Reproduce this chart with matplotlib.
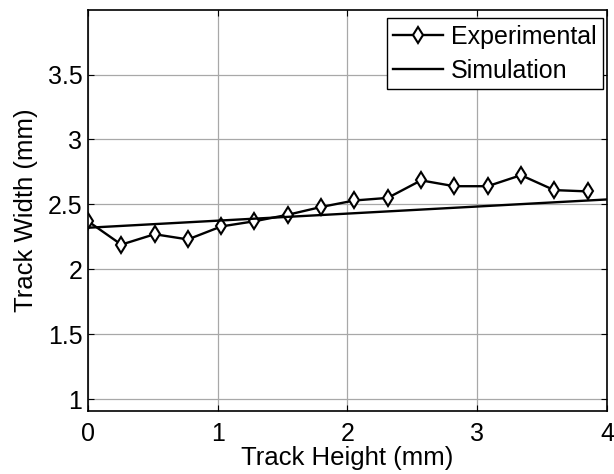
import numpy as np
import matplotlib
matplotlib.use('Agg')
import matplotlib.pyplot as plt

plt.rcParams['font.family'] = ['Liberation Sans', 'DejaVu Sans']

# track height (mm) / width (mm)
exp_height = [0.0, 0.257, 0.513, 0.770, 1.027, 1.283, 1.540, 1.797,
              2.053, 2.310, 2.567, 2.823, 3.080, 3.337, 3.593, 3.850]
exp_width = [2.37, 2.19, 2.27, 2.23, 2.33, 2.37, 2.42, 2.48,
             2.53, 2.55, 2.685, 2.64, 2.64, 2.725, 2.61, 2.60]
sim_height = [0.0, 4.0]
sim_width = [2.32, 2.538]

fig = plt.figure(figsize=(6.14, 4.74), dpi=100)
ax = fig.add_axes([0.1433, 0.1335, 0.8453, 0.846])

ax.plot(exp_height, exp_width, color='black', lw=1.7, marker='d', markersize=7.8,
        markerfacecolor='white', markeredgewidth=1.5, label='Experimental')
ax.plot(sim_height, sim_width, color='black', lw=1.7, label='Simulation')

ax.set_xlim(0, 4)
ax.set_ylim(0.91, 4.0)
ax.set_xticks([0, 1, 2, 3, 4])
ax.set_yticks([1, 1.5, 2, 2.5, 3, 3.5])
ax.set_yticklabels(['1', '1.5', '2', '2.5', '3', '3.5'])
ax.grid(True, color='#a8a8a8', lw=0.9)
ax.set_axisbelow(True)
ax.tick_params(direction='in', top=True, right=True, labelsize=18, length=4)
ax.tick_params(axis='x', pad=8)
ax.tick_params(axis='y', pad=4)
for s in ax.spines.values():
    s.set_linewidth(1.2)

ax.set_xlabel('Track Height (mm)', fontsize=18.5, labelpad=0)
ax.set_ylabel('Track Width (mm)', fontsize=18.5, labelpad=7)

leg = ax.legend(loc='upper right', bbox_to_anchor=(0.9917, 0.9786), borderaxespad=0,
                fontsize=18, fancybox=False, framealpha=1, edgecolor='black',
                handlelength=2.0, handletextpad=0.3, borderpad=0.26, labelspacing=0.4)
leg.get_frame().set_linewidth(1.0)

fig.savefig('out.png', dpi=100)
